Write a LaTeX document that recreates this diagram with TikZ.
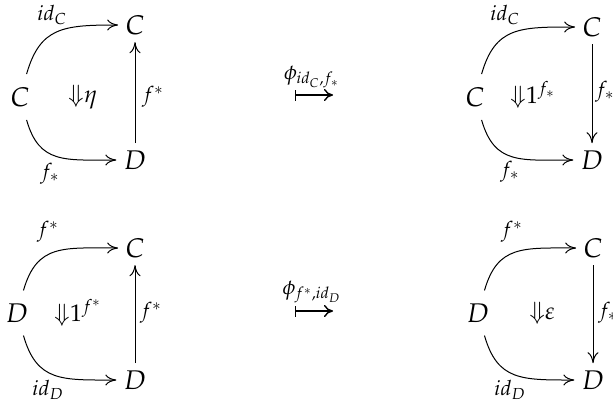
\documentclass[tikz,border=0pt]{standalone}
\usepackage[T1]{fontenc}
\usepackage{mathpazo}
\usetikzlibrary{arrows.meta}
\begin{document}
\begin{tikzpicture}[x=0.5pt,y=0.5pt,
  obj/.style={inner sep=3.5pt, font=\fontsize{13.5}{16}\selectfont},
  lbl/.style={inner sep=0pt, font=\fontsize{10.5}{12}\selectfont},
  cell/.style={inner sep=0pt, font=\fontsize{12}{14}\selectfont},
  phil/.style={inner sep=0pt, font=\fontsize{10.5}{12}\selectfont},
  arr/.style={line width=0.5pt, -{Computer Modern Rightarrow[length=5.5pt,width=5.5pt]}},
  curv/.style={arr, shorten <=3pt, looseness=1.3},
  mapsarr/.style={line width=0.7pt, {Bar[width=5.5pt]}-{Computer Modern Rightarrow[length=4.5pt,width=6pt]}}]
\useasboundingbox (0,0) rectangle (613,403);
\clip (0,0) rectangle (613,403);
% top-left
\node[obj] (a1) at (20,306) {$C$};
\node[obj] (a2) at (135,378) {$C$};
\node[obj] (a3) at (135,243) {$D$};
\draw[curv] (a1) to[out=74,in=180] (a2);
\draw[curv] (a1) to[out=-74,in=180] (a3);
\draw[arr] (a3) -- (a2);
\node[lbl] (a4) at (52,388) {$id_C$};
\node[lbl] (a5) at (50,229) {$f_*$};
\node[cell] (a6) at (83,306) {$\mathord{\Downarrow}\eta$};
\node[lbl] (a7) at (153,306) {$f^*$};
% top middle
\coordinate (m1) at (295,308);
\coordinate (m2) at (333,308);
\draw[mapsarr] (m1) -- (m2);
\node[phil] (m3) at (312,326) {$\phi_{id_C,f_*}$};
% top-right
\node[obj] (b1) at (475,306) {$C$};
\node[obj] (b2) at (592,376) {$C$};
\node[obj] (b3) at (592,243) {$D$};
\draw[curv] (b1) to[out=74,in=180] (b2);
\draw[curv] (b1) to[out=-74,in=180] (b3);
\draw[arr] (b2) -- (b3);
\node[lbl] (b4) at (505,388) {$id_C$};
\node[lbl] (b5) at (510,231) {$f_*$};
\node[cell] (b6) at (533,308) {$\mathord{\Downarrow}1^{f_*}$};
\node[lbl] (b7) at (605,311) {$f_*$};
% bottom-left
\node[obj] (c1) at (17,90) {$D$};
\node[obj] (c2) at (135,155) {$C$};
\node[obj] (c3) at (135,23) {$D$};
\draw[curv] (c1) to[out=74,in=180] (c2);
\draw[curv] (c1) to[out=-74,in=180] (c3);
\draw[arr] (c3) -- (c2);
\node[lbl] (c4) at (48,171) {$f^*$};
\node[lbl] (c5) at (48,13) {$id_D$};
\node[cell] (c6) at (78,90) {$\mathord{\Downarrow}1^{f^*}$};
\node[lbl] (c7) at (151,90) {$f^*$};
% bottom middle
\coordinate (n1) at (295,92);
\coordinate (n2) at (333,92);
\draw[mapsarr] (n1) -- (n2);
\node[phil] (n3) at (312,111) {$\phi_{f^*,id_D}$};
% bottom-right
\node[obj] (d1) at (478,90) {$D$};
\node[obj] (d2) at (593,155) {$C$};
\node[obj] (d3) at (593,23) {$D$};
\draw[curv] (d1) to[out=74,in=180] (d2);
\draw[curv] (d1) to[out=-74,in=180] (d3);
\draw[arr] (d2) -- (d3);
\node[lbl] (d4) at (512,171) {$f^*$};
\node[lbl] (d5) at (510,13) {$id_D$};
\node[cell] (d6) at (542,90) {$\mathord{\Downarrow}\varepsilon$};
\node[lbl] (d7) at (608,90) {$f_*$};
\end{tikzpicture}
\end{document}
